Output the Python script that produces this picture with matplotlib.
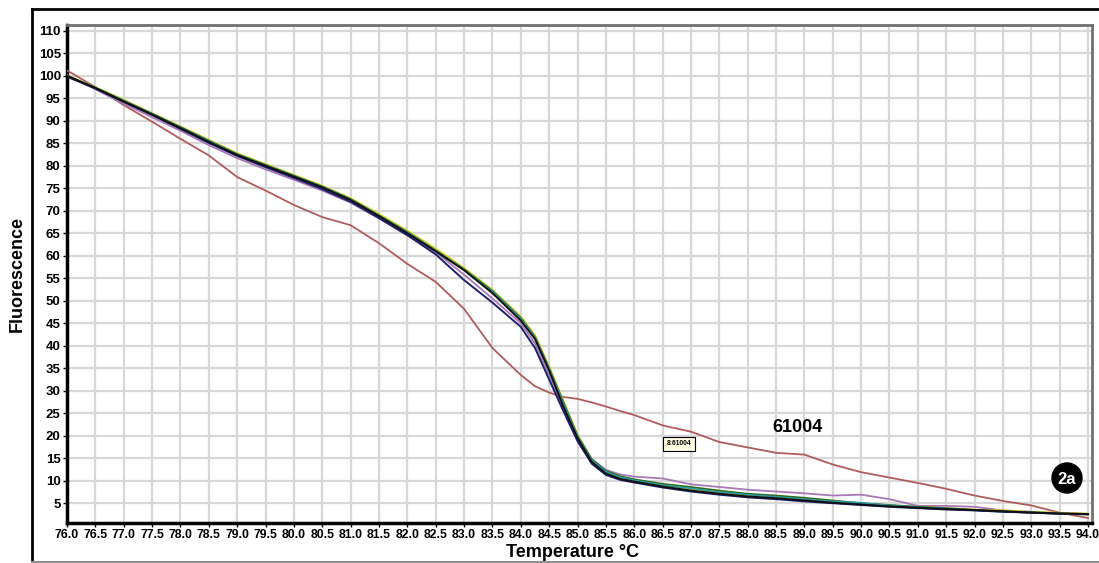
import numpy as np
import matplotlib.pyplot as plt
from matplotlib.patches import Circle
from matplotlib.lines import Line2D

plt.rcParams['font.family'] = ['Liberation Sans', 'DejaVu Sans']
plt.rcParams['font.weight'] = 'bold'

# temperatures (°C) at which the curves were read
temp = [76.0, 76.5, 77.0, 77.5, 78.0, 78.5, 79.0, 79.5, 80.0, 80.5, 81.0, 81.5,
        82.0, 82.5, 83.0, 83.5, 84.0, 84.25, 84.5, 84.75, 85.0, 85.25, 85.5, 85.75,
        86.0, 86.5, 87.0, 87.5, 88.0, 88.5, 89.0, 89.5, 90.0, 90.5, 91.0, 91.5,
        92.0, 92.5, 93.0, 93.5, 94.0]

black = [100.0, 97.3, 94.3, 91.4, 88.4, 85.3, 82.4, 80.0, 77.6, 75.2, 72.4, 68.8,
         65.0, 61.0, 56.8, 51.7, 45.6, 41.5, 34.5, 26.5, 19.5, 14.2, 11.6, 10.4,
         9.8, 8.7, 7.8, 7.1, 6.5, 6.1, 5.6, 5.1, 4.7, 4.3, 4.0, 3.7,
         3.5, 3.2, 2.9, 2.7, 2.6]
navy = [99.8, 97.2, 94.2, 91.3, 88.2, 85.1, 82.2, 79.7, 77.3, 74.8, 72.0, 68.4,
        64.6, 60.3, 54.6, 49.6, 44.2, 39.5, 32.5, 25.5, 18.8, 13.8, 11.3, 10.2,
        9.6, 8.5, 7.6, 6.9, 6.3, 5.9, 5.4, 5.0, 4.6, 4.2, 3.9, 3.6,
        3.4, 3.1, 2.9, 2.7, 2.6]
green = [100.0, 97.4, 94.5, 91.6, 88.6, 85.6, 82.6, 80.2, 77.8, 75.4, 72.6, 69.0,
         65.3, 61.2, 57.0, 52.2, 46.2, 42.0, 35.0, 27.5, 20.0, 14.8, 12.2, 11.0,
         10.3, 9.3, 8.6, 7.8, 7.1, 6.7, 6.2, 5.6, 5.0, 4.6, 4.2, 3.9,
         3.5, 3.2, 3.0, 2.7, 2.5]
teal = [99.9, 97.3, 94.4, 91.5, 88.5, 85.5, 82.5, 80.1, 77.7, 75.3, 72.5, 68.9,
        65.2, 61.1, 56.9, 52.0, 46.0, 41.8, 34.8, 27.2, 19.8, 14.6, 12.0, 10.8,
        10.1, 9.0, 8.3, 7.5, 6.9, 6.4, 5.9, 5.4, 5.1, 4.5, 4.1, 3.8,
        3.4, 3.1, 2.9, 2.6, 2.5]
yellow = [100.0, 97.4, 94.6, 91.6, 88.7, 85.7, 82.7, 80.3, 77.9, 75.5, 72.7, 69.2,
          65.5, 61.5, 57.2, 52.3, 46.4, 42.2, 35.2, 27.6, 20.1, 14.6, 11.9, 10.7,
          10.0, 8.9, 8.0, 7.4, 6.8, 6.4, 5.9, 5.3, 4.8, 4.4, 4.1, 3.8,
          3.5, 3.3, 3.0, 2.8, 2.6]
purple = [100.2, 97.0, 93.8, 90.8, 87.8, 84.6, 81.7, 79.2, 76.9, 74.5, 71.8, 68.3,
          64.5, 60.8, 55.8, 50.5, 45.0, 40.5, 33.5, 26.0, 19.5, 14.8, 12.4, 11.4,
          10.9, 10.5, 9.2, 8.6, 8.0, 7.6, 7.2, 6.7, 6.9, 5.9, 4.4, 4.4,
          4.2, 3.4, 3.1, 2.8, 2.5]
red = [101.2, 97.5, 93.5, 89.8, 86.0, 82.3, 77.5, 74.5, 71.3, 68.6, 66.8, 62.8,
       58.2, 54.2, 48.2, 39.5, 33.5, 31.0, 29.6, 28.6, 28.2, 27.4, 26.5, 25.5,
       24.6, 22.3, 20.9, 18.6, 17.4, 16.2, 15.8, 13.6, 11.9, 10.7, 9.5, 8.2,
       6.7, 5.5, 4.5, 2.9, 1.7]

xticks = np.arange(76.0, 94.01, 0.5)
yticks = np.arange(5, 111, 5)

W, H = 1099, 563
fig = plt.figure(figsize=(W / 100, H / 100), dpi=100)

# outer frame: black left/top, grey bottom
fig.lines.append(Line2D([32 / W, 32 / W], [1 / H, 1 - 9 / H], transform=fig.transFigure,
                        color='black', lw=2))
fig.lines.append(Line2D([32 / W, 1], [1 - 9 / H, 1 - 9 / H], transform=fig.transFigure,
                        color='black', lw=2))
fig.lines.append(Line2D([32 / W, 1], [1.5 / H, 1.5 / H], transform=fig.transFigure,
                        color='#909090', lw=1.5))

ax = fig.add_axes([67 / W, 1 - 523 / H, (1092 - 67) / W, (523 - 25) / H])

ax.plot(temp, red, color='#b05c5c', lw=1.3, zorder=3)
ax.plot(temp, purple, color='#a878b8', lw=1.3, zorder=3)
ax.plot(temp, yellow, color='#d8d020', lw=1.8, zorder=3)
ax.plot(temp, green, color='#2e6b1e', lw=1.3, zorder=3)
ax.plot(temp, teal, color='#2a9aa0', lw=1.2, zorder=3)
ax.plot(temp, navy, color='#20206e', lw=1.4, zorder=3)
ax.plot(temp, black, color='#101010', lw=1.4, zorder=3)

ax.set_xlim(76.0, 94.07)
ax.set_ylim(0.6, 111.3)
ax.set_xticks(xticks)
ax.set_xticklabels(['%.1f' % t for t in xticks])
ax.set_yticks(yticks)
ax.tick_params(length=3, width=1, pad=1.5)
ax.tick_params(axis='x', labelsize=8.8)
ax.tick_params(axis='y', labelsize=9.5)
ax.grid(True, color='#d8d8d8', lw=1.6)

ax.spines['left'].set_linewidth(2.5)
ax.spines['bottom'].set_linewidth(2.5)
ax.spines['top'].set_color('#707070')
ax.spines['right'].set_color('#707070')
ax.spines['top'].set_linewidth(2)
ax.spines['right'].set_linewidth(2)

ax.set_xlabel('Temperature °C', fontsize=13, fontweight='bold')
ax.set_ylabel('Fluorescence', fontsize=13, fontweight='bold', labelpad=9)
ax.xaxis.set_label_coords((573 - 67) / (1092 - 67), -0.042)

ax.text(88.87, 21.9, '61004', fontsize=13, fontweight='bold', ha='center', va='center')
ax.text(86.79, 18.2, '8:61004', fontsize=4.8, ha='center', va='center',
        bbox=dict(boxstyle='square,pad=0.5', fc='#fffbe0', ec='black', lw=0.8))

# "2a" badge
fig.patches.append(Circle((1067, H - 478), 15, transform=None, color='black', zorder=5))
fig.text(1067 / W, 1 - 479 / H, '2a', fontsize=12, fontweight='bold', color='white',
         ha='center', va='center', zorder=6)

fig.savefig('out.png', dpi=100)
